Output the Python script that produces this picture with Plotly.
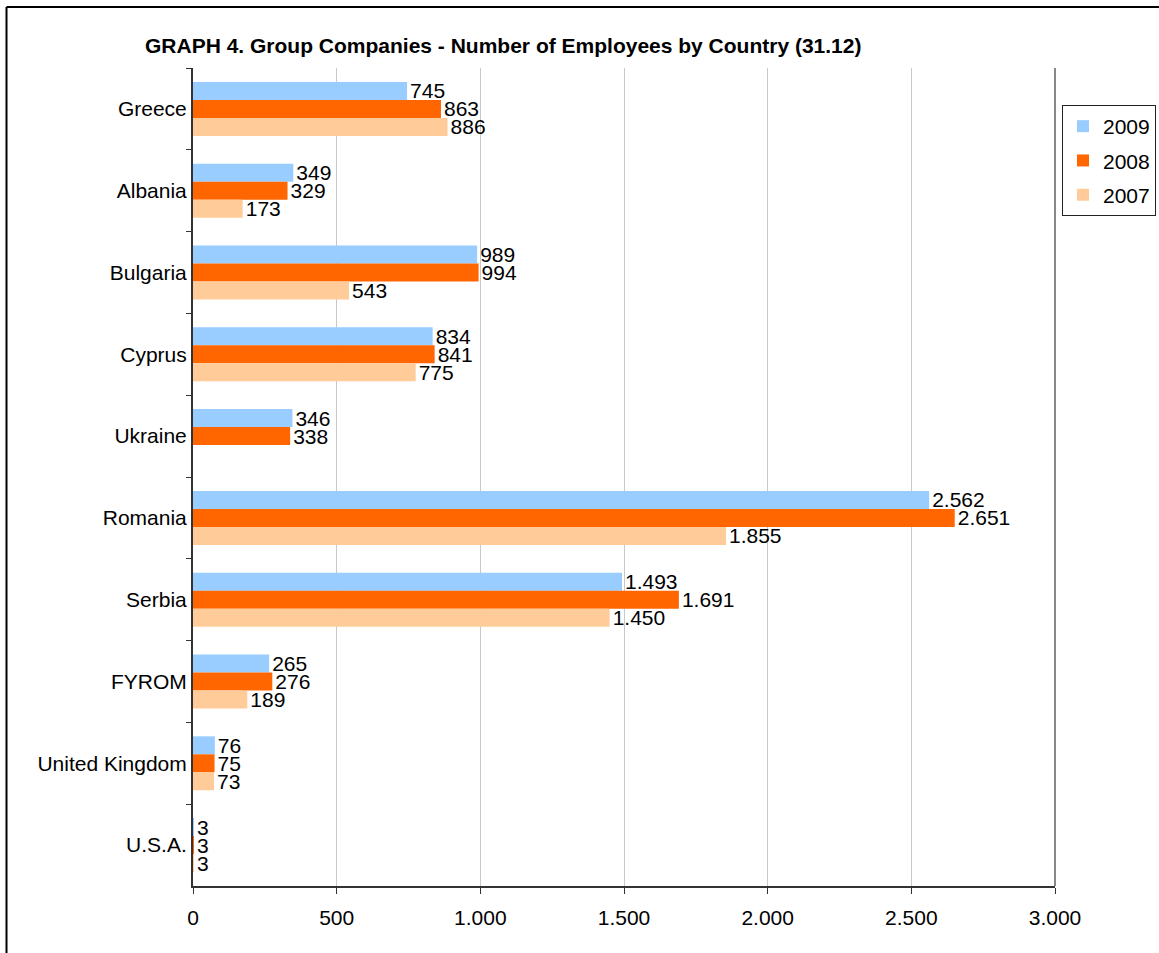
import plotly.graph_objects as go

countries = ["Greece", "Albania", "Bulgaria", "Cyprus", "Ukraine", "Romania",
             "Serbia", "FYROM", "United Kingdom", "U.S.A."]
emp_2009 = [745, 349, 989, 834, 346, 2562, 1493, 265, 76, 3]
emp_2008 = [863, 329, 994, 841, 338, 2651, 1691, 276, 75, 3]
emp_2007 = [886, 173, 543, 775, None, 1855, 1450, 189, 73, 3]

series = [("2009", emp_2009, "#99CCFF"),
          ("2008", emp_2008, "#FF6600"),
          ("2007", emp_2007, "#FFCC99")]

FONT = "Liberation Sans, Arial, sans-serif"
FS = 21


def fmt(v):
    return "" if v is None else f"{v:,}".replace(",", ".")


fig = go.Figure()
for i, (name, vals, col) in enumerate(series):
    fig.add_trace(go.Bar(
        y=countries, x=vals, name=name, orientation="h",
        marker=dict(color=col, line=dict(width=0)),
        text=[fmt(v) for v in vals], textposition="outside",
        constraintext="none",
        textfont=dict(family=FONT, size=FS, color="black"),
        cliponaxis=False, legendgroup=name,
    ))

W, H = 1159, 953
L, R, T, B = 193, 104, 68, 67
pw, ph = W - L - R, H - T - B


def px(x):
    return (x - L) / pw


def py(y):
    return (H - B - y) / ph


fig.update_layout(
    width=W, height=H,
    margin=dict(l=L, r=R, t=T, b=B, autoexpand=False),
    paper_bgcolor="white", plot_bgcolor="white",
    barmode="group", bargap=0.34, bargroupgap=0,
    separators=",.",
    font=dict(family=FONT, size=FS, color="black"),
    title=dict(text="<b>GRAPH 4. Group Companies - Number of Employees by Country (31.12)</b>",
               x=145 / W, xanchor="left", xref="container",
               y=1 - 46 / H, yanchor="middle", yref="container",
               font=dict(family=FONT, size=FS, color="black")),
    showlegend=True,
    legend=dict(x=px(1062), y=py(105), xanchor="left", yanchor="top",
                bordercolor="#222", borderwidth=1, bgcolor="white",
                traceorder="grouped", tracegroupgap=4, itemwidth=30,
                font=dict(family=FONT, size=FS, color="black")),
    xaxis=dict(range=[0, 3000], dtick=500, tick0=0, showgrid=True,
               gridcolor="#C8C8C8", gridwidth=1, zeroline=False,
               showline=True, linecolor="#333", linewidth=2,
               ticks="outside", ticklen=6, tickcolor="#333",
               separatethousands=True, tickformat=",d",
               ticklabelstandoff=6,
               tickfont=dict(family=FONT, size=FS, color="black")),
    yaxis=dict(autorange="reversed", type="category", showgrid=False,
               showline=True, linecolor="#333", linewidth=2,
               ticks="outside", ticklen=5, tickcolor="#333",
               tickson="boundaries",
               tickfont=dict(family=FONT, size=FS, color="black")),
    shapes=[
        dict(type="line", xref="paper", yref="paper", x0=1, x1=1, y0=0, y1=1,
             line=dict(color="#888", width=2)),
        dict(type="line", xref="paper", yref="paper",
             x0=px(6.5), x1=px(6.5), y0=py(7), y1=py(H + 5),
             line=dict(color="black", width=2)),
        dict(type="line", xref="paper", yref="paper",
             x0=px(6.5), x1=px(W + 5), y0=py(7), y1=py(7),
             line=dict(color="black", width=2)),
    ],
)

fig.write_html("out.html")
